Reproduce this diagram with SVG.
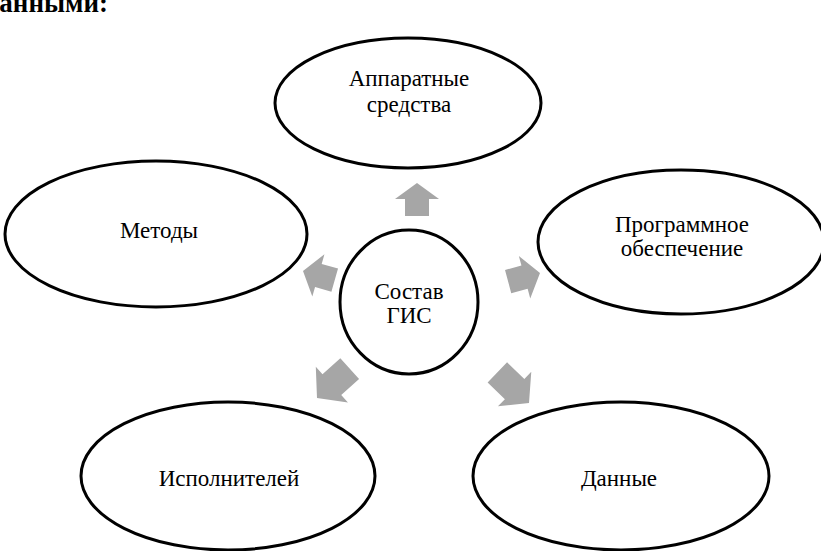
<svg xmlns="http://www.w3.org/2000/svg" width="821" height="551" viewBox="0 0 821 551">
  <style>
    .node { fill: #ffffff; stroke: #000000; stroke-width: 3; }
    .label { font-family: "Liberation Serif", "Times New Roman", "DejaVu Serif", serif; font-size: 23px; fill: #000000; text-anchor: middle; }
    .lead { font-family: "Liberation Serif", "Times New Roman", "DejaVu Serif", serif; font-size: 27px; font-weight: bold; fill: #000000; text-anchor: end; }
    .arrow { fill: #a6a6a6; }
  </style>
  <defs>
    <!-- block arrows, tip at the origin, pointing up -->
    <polygon id="arrowShort" points="0,0 22,16 12,16 12,33 -12,33 -12,16 -22,16"/>
    <polygon id="arrowLong" points="0,0 24,20 14,20 14,44 -14,44 -14,20 -24,20"/>
  </defs>
  <rect width="821" height="551" fill="#ffffff"/>

  <!-- end of the preceding text line -->
  <text class="lead" x="108" y="12" font-family="Liberation Serif, serif">данными:</text>

  <g id="connectors" class="arrow">
    <use href="#arrowShort" transform="translate(417,183)"/>
    <use href="#arrowShort" transform="translate(303,271) rotate(-74)"/>
    <use href="#arrowShort" transform="translate(540,273) rotate(75)"/>
    <use href="#arrowLong" transform="translate(317,398) rotate(-132)"/>
    <use href="#arrowLong" transform="translate(529,403) rotate(134)"/>
  </g>

  <g id="center">
    <ellipse class="node" cx="409" cy="302" rx="69" ry="72"/>
    <text class="label" x="409" y="299">Состав</text>
    <text class="label" x="409" y="323">ГИС</text>
  </g>

  <g id="hardware">
    <ellipse class="node" cx="408" cy="103" rx="133" ry="65"/>
    <text class="label" x="409" y="86">Аппаратные</text>
    <text class="label" x="409" y="112">средства</text>
  </g>

  <g id="methods">
    <ellipse class="node" cx="156" cy="234" rx="151" ry="73"/>
    <text class="label" x="159" y="238">Методы</text>
  </g>

  <g id="software">
    <ellipse class="node" cx="681" cy="242" rx="143" ry="72"/>
    <text class="label" x="682" y="232">Программное</text>
    <text class="label" x="682" y="256">обеспечение</text>
  </g>

  <g id="staff">
    <ellipse class="node" cx="228" cy="476" rx="147" ry="74"/>
    <text class="label" x="229" y="486">Исполнителей</text>
  </g>

  <g id="data">
    <ellipse class="node" cx="621" cy="476" rx="148" ry="74"/>
    <text class="label" x="619" y="486">Данные</text>
  </g>
</svg>
